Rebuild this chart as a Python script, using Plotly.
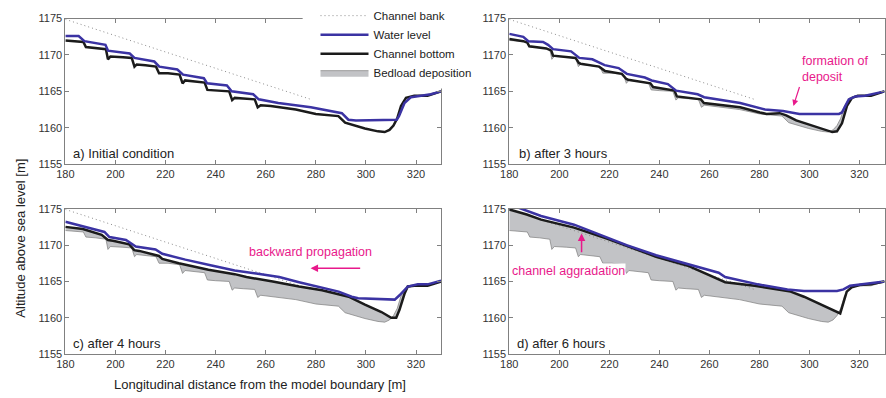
import plotly.graph_objects as go
from plotly.subplots import make_subplots

# ---------------- data ----------------
bank_x = [180, 278]
bank_y = [1174.9, 1163.9]

bottom0_x = [180, 183, 187.2, 188.2, 192, 196.2, 197, 198, 203, 206.5, 207.6, 208.5, 212, 216.2, 217.4,
             221, 225.6, 226.8, 227.8, 231, 235.6, 236.7, 240, 245.4, 246.6, 247.6, 251, 255.6, 256.8,
             258, 262, 272, 280, 289, 291.7, 295.6, 299.6, 304.8, 307.5, 309.4, 311, 312.5, 314, 316,
             319.3, 324.6, 330]
bottom0_y = [1172.0, 1171.9, 1171.8, 1171.1, 1171.0, 1170.8, 1169.4, 1169.8, 1169.7, 1169.6, 1168.4,
             1168.7, 1168.6, 1168.4, 1167.5, 1167.5, 1167.3, 1166.1, 1166.5, 1166.4, 1166.2, 1165.2,
             1165.1, 1165.0, 1163.8, 1164.1, 1164.0, 1163.9, 1162.8, 1163.1, 1163.0, 1162.5, 1161.9,
             1161.6, 1160.7, 1160.3, 1159.9, 1159.5, 1159.4, 1159.7, 1160.3, 1161.3, 1163.0, 1164.1,
             1164.4, 1164.4, 1165.0]

water0_x = [180, 185.3, 187.6, 191.8, 196, 197, 202.4, 205.7, 207.6, 215.5, 217.5, 224.7, 227, 235.3,
            236.6, 244.5, 246.4, 255, 257.2, 265, 278, 287.7, 290.4, 293, 296, 312.3, 313.2, 315.4,
            318, 322, 325.9, 330]
water0_y = [1172.6, 1172.6, 1171.9, 1171.7, 1171.4, 1170.6, 1170.3, 1170.2, 1169.6, 1169.1, 1168.4,
            1168.0, 1167.3, 1166.8, 1166.1, 1165.8, 1165.0, 1164.6, 1163.9, 1163.4, 1162.8, 1162.2,
            1162.0, 1161.1, 1161.0, 1161.1, 1161.6, 1163.4, 1164.2, 1164.4, 1164.6, 1165.0]

bottom3_x = [180, 185.6, 187.2, 188, 194.8, 196.8, 197.5, 206.5, 207.8, 208.5, 215.9, 217.5, 218.3, 225,
             226.8, 227.5, 236.4, 237.5, 246, 247, 256.6, 257.8, 272.3, 280.2, 282.8, 288.1, 290.7,
             294.7, 302.5, 309.1, 311, 313, 315, 317, 319.3, 324.6, 330]
bottom3_y = [1172.2, 1171.9, 1171.7, 1171.2, 1170.9, 1170.6, 1169.9, 1169.6, 1168.9, 1168.8, 1168.4,
             1168.0, 1167.8, 1167.4, 1166.7, 1166.6, 1166.1, 1165.6, 1165.1, 1164.3, 1163.9, 1163.4,
             1162.8, 1162.1, 1161.9, 1162.0, 1161.7, 1161.0, 1160.1, 1159.4, 1159.5, 1160.6, 1163.0,
             1164.1, 1164.4, 1164.4, 1165.0]

water3_x = [180, 185.6, 187.6, 193.5, 195.5, 197.5, 204.7, 208, 213.2, 218.1, 223.7, 227, 234.2, 236.9,
            243.4, 246.7, 255.3, 257.9, 272.3, 280.2, 282.2, 289.4, 296, 311.8, 313, 315.7, 318.3,
            322.3, 330]
water3_y = [1172.9, 1172.5, 1171.9, 1171.8, 1171.4, 1170.8, 1170.5, 1169.6, 1169.4, 1168.6, 1168.2,
            1167.4, 1166.9, 1166.5, 1166.0, 1165.1, 1164.6, 1164.2, 1163.4, 1162.6, 1162.5, 1162.3,
            1161.9, 1161.9, 1162.1, 1163.9, 1164.3, 1164.4, 1165.0]

bottom4_x = [180, 187, 194.5, 197, 199, 205.5, 207.5, 209.5, 217.4, 218.7, 225.3, 237.1, 247.6, 252.3,
             262.8, 273.3, 282.5, 289.1, 293.1, 299.6, 306.2, 310.1, 312.1, 313.4, 315.4, 316.7,
             319.3, 324.6, 330]
bottom4_y = [1172.5, 1172.2, 1171.4, 1170.7, 1170.6, 1170.1, 1169.3, 1169.2, 1168.5, 1168.1, 1167.5,
             1166.6, 1166.0, 1165.6, 1165.0, 1164.3, 1163.8, 1163.3, 1162.9, 1161.8, 1160.8, 1160.0,
             1160.0, 1161.1, 1163.3, 1164.3, 1164.4, 1164.4, 1165.0]

water4_x = [180, 187, 195.6, 197.6, 204.2, 208.1, 216, 218.7, 227.9, 238.4, 247.6, 256.2, 265.4, 273.3,
            282.5, 289.1, 294.3, 296.9, 311.5, 313.4, 316.7, 320.7, 324.6, 330]
water4_y = [1173.2, 1172.6, 1171.8, 1171.1, 1170.7, 1169.8, 1169.4, 1168.8, 1168.0, 1167.2, 1166.5,
            1166.1, 1165.6, 1164.9, 1164.2, 1163.6, 1162.9, 1162.7, 1162.5, 1163.1, 1164.3, 1164.6,
            1164.6, 1165.1]

bottom6_x = [180, 187, 192.7, 205.9, 219, 226.9, 238.7, 251.8, 258.4, 266.3, 278.1, 292.5, 297.8, 307,
             312.3, 314.9, 316.9, 320.1, 324.6, 330]
bottom6_y = [1174.9, 1174.2, 1173.5, 1172.4, 1170.9, 1169.9, 1168.4, 1167.1, 1166.1, 1164.9, 1164.4,
             1163.6, 1162.9, 1161.4, 1160.6, 1163.6, 1164.2, 1164.5, 1164.6, 1165.0]

water6_x = [180, 184.2, 192.7, 205.9, 219, 226.9, 238.7, 251.8, 258.4, 263.7, 266.3, 279.4, 291.2,
            297.8, 311, 313.6, 316.2, 321.4, 330]
water6_y = [1175.6, 1175.1, 1174.0, 1172.8, 1171.1, 1170.0, 1168.6, 1167.3, 1166.7, 1166.2, 1165.6,
            1164.6, 1163.9, 1163.7, 1163.7, 1163.9, 1164.4, 1164.6, 1165.0]

panel_labels = ["a) Initial condition", "b) after 3 hours", "c) after 4 hours", "d) after 6 hours"]
x_ticks = [180, 200, 220, 240, 260, 280, 300, 320]
y_ticks = [1155, 1160, 1165, 1170, 1175]

# ---------------- styling ----------------
W, H = 886, 398
FONT = "Liberation Sans, Arial, sans-serif"
BLUE = "#3b33a3"
BLACK = "#1b1b1b"
GREY_FILL = "#c2c3c6"
GREY_EDGE = "#7d7d7d"
MAGENTA = "#e8198b"
AXIS = "#808080"

fig = make_subplots(rows=2, cols=2)

panels = [
    (1, 1, bottom0_x, bottom0_y, water0_x, water0_y, False),
    (1, 2, bottom3_x, bottom3_y, water3_x, water3_y, True),
    (2, 1, bottom4_x, bottom4_y, water4_x, water4_y, True),
    (2, 2, bottom6_x, bottom6_y, water6_x, water6_y, True),
]

for i, (r, c, bx, by, wx, wy, has_fill) in enumerate(panels):
    leg = (i == 1)
    if has_fill:
        fig.add_trace(go.Scatter(
            x=list(bx) + bottom0_x[::-1], y=list(by) + bottom0_y[::-1],
            fill="toself", fillcolor=GREY_FILL, mode="lines",
            line=dict(color=GREY_EDGE, width=0.7),
            name="Bedload deposition", showlegend=leg, legendrank=4,
            hoverinfo="skip"), row=r, col=c)
    fig.add_trace(go.Scatter(
        x=bank_x, y=bank_y, mode="lines",
        line=dict(color="#8a8a8a", width=1, dash="1px,3px"),
        name="Channel bank", showlegend=leg, legendrank=1), row=r, col=c)
    fig.add_trace(go.Scatter(
        x=bx, y=by, mode="lines", line=dict(color=BLACK, width=2.5),
        name="Channel bottom", showlegend=leg, legendrank=3), row=r, col=c)
    fig.add_trace(go.Scatter(
        x=wx, y=wy, mode="lines", line=dict(color=BLUE, width=2.5),
        name="Water level", showlegend=leg, legendrank=2), row=r, col=c)

# domains in pixels
xdom = {1: (57, 437), 2: (506, 885.5), 3: (57, 437), 4: (506, 885.5)}
ydom = {1: (13, 163), 2: (13, 163), 3: (209, 359), 4: (209, 359)}

for k in range(1, 5):
    sx = "" if k == 1 else str(k)
    fig.layout["xaxis" + sx].update(
        domain=[xdom[k][0] / W, xdom[k][1] / W], range=[180, 330],
        tickvals=x_ticks, ticks="inside", ticklen=4, tickcolor=AXIS,
        showline=True, linecolor=AXIS, linewidth=1, mirror="ticks",
        showgrid=False, zeroline=False,
        tickfont=dict(family=FONT, size=11, color="#333333"))
    fig.layout["yaxis" + sx].update(
        domain=[1 - ydom[k][1] / H, 1 - ydom[k][0] / H], range=[1155, 1175],
        tickvals=y_ticks, ticks="inside", ticklen=4, tickcolor=AXIS,
        showline=True, linecolor=AXIS, linewidth=1, mirror="ticks",
        showgrid=False, zeroline=False,
        tickfont=dict(family=FONT, size=11, color="#333333"))

annotations = []
label_pos = [(182.4, 1156.5), (183.2, 1156.5), (182.4, 1156.5), (182.2, 1156.5)]
for k in range(1, 5):
    sx = "" if k == 1 else str(k)
    annotations.append(dict(
        x=label_pos[k - 1][0], y=label_pos[k - 1][1], xref="x" + sx, yref="y" + sx,
        text=panel_labels[k - 1], showarrow=False, xanchor="left", yanchor="middle",
        font=dict(family=FONT, size=13, color="#222222")))

# magenta notes
annotations += [
    dict(x=296.4, y=1168.1, xref="x2", yref="y2", text="formation of<br>deposit",
         showarrow=False, xanchor="left", yanchor="middle", align="left",
         font=dict(family=FONT, size=12.5, color=MAGENTA)),
    dict(x=293.6, y=1163.0, ax=296.2, ay=1165.8, xref="x2", yref="y2", axref="x2", ayref="y2",
         text="", showarrow=True, arrowhead=2, arrowsize=1, arrowwidth=1.2, arrowcolor=MAGENTA),
    dict(x=278, y=1169.1, xref="x3", yref="y3", text="backward propagation",
         showarrow=False, xanchor="center", yanchor="middle",
         font=dict(family=FONT, size=12.5, color=MAGENTA)),
    dict(x=277.9, y=1166.8, ax=298.3, ay=1166.8, xref="x3", yref="y3", axref="x3", ayref="y3",
         text="", showarrow=True, arrowhead=2, arrowsize=1, arrowwidth=1.5, arrowcolor=MAGENTA),
    dict(x=180.6, y=1166.5, xref="x4", yref="y4", text="channel aggradation",
         showarrow=False, xanchor="left", yanchor="middle", bgcolor="white", borderpad=0,
         font=dict(family=FONT, size=12.5, color=MAGENTA)),
    dict(x=208.9, y=1171.6, ax=208.9, ay=1168.8, xref="x4", yref="y4", axref="x4", ayref="y4",
         text="", showarrow=True, arrowhead=2, arrowsize=1, arrowwidth=1.5, arrowcolor=MAGENTA),
]

# axis titles
annotations += [
    dict(x=12 / W, y=1 - 239 / H, xref="paper", yref="paper", text="Altitude above sea level [m]",
         textangle=-90, showarrow=False, xanchor="center", yanchor="middle",
         font=dict(family=FONT, size=13, color="#222222")),
    dict(x=254 / W, y=1 - 390 / H, xref="paper", yref="paper",
         text="Longitudinal distance from the model boundary [m]",
         showarrow=False, xanchor="center", yanchor="middle",
         font=dict(family=FONT, size=13, color="#222222")),
]

fig.update_layout(
    width=W, height=H, margin=dict(l=0, r=0, t=0, b=0),
    paper_bgcolor="white", plot_bgcolor="white",
    annotations=annotations,
    shapes=[dict(type="rect", xref="paper", yref="paper", x0=297 / W, x1=470 / W,
                 y0=1 - 85 / H, y1=1.0, fillcolor="white", line=dict(width=0), layer="above")],
    legend=dict(x=310 / W, y=1.0 + 5 / H, xanchor="left", yanchor="top", bgcolor="white",
                borderwidth=0, itemwidth=48, tracegroupgap=0,
                font=dict(family=FONT, size=11.5, color="#222222")),
    showlegend=True,
)

fig.write_html("out.html")
